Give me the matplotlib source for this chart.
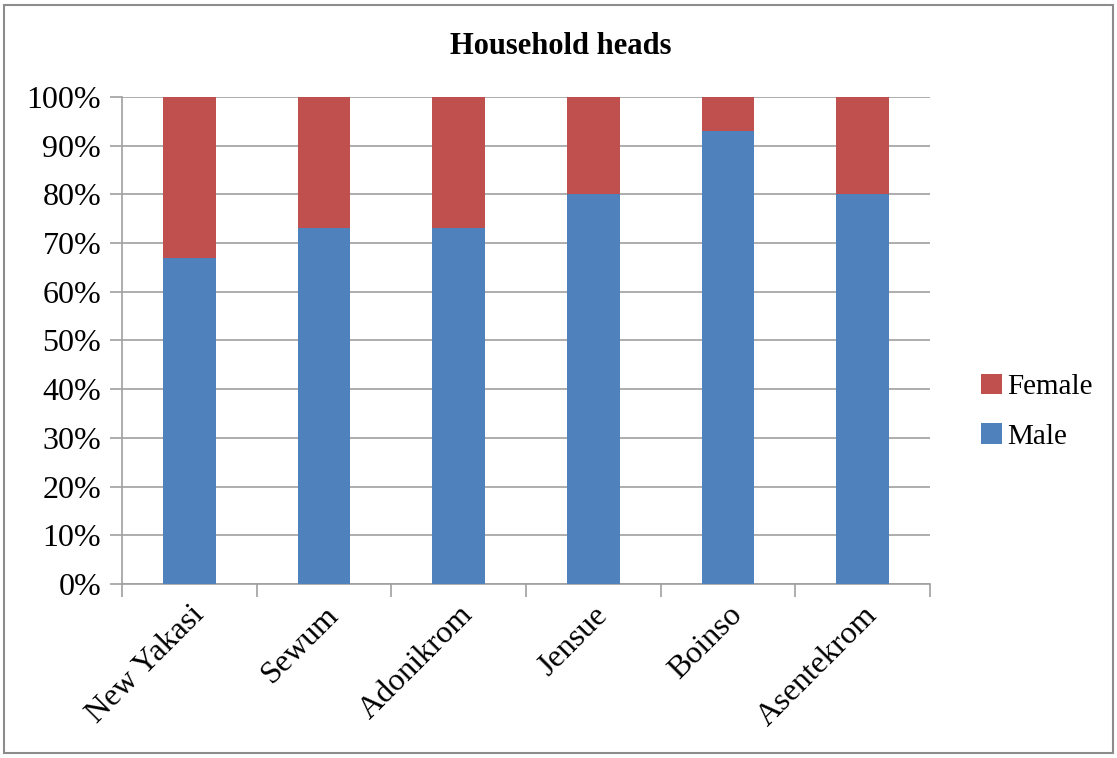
import numpy as np
import matplotlib.pyplot as plt
from matplotlib.patches import Rectangle
from matplotlib.ticker import FixedLocator, PercentFormatter

villages = ['New Yakasi', 'Sewum', 'Adonikrom', 'Jensue', 'Boinso', 'Asentekrom']
male = [67, 73, 73, 80, 93, 80]
female = [100 - m for m in male]

blue = '#4F81BD'
red = '#C0504D'
grid_grey = '#A0A0A0'

plt.rcParams['font.family'] = ['Liberation Serif', 'DejaVu Serif']

fig = plt.figure(figsize=(11.17, 7.58), dpi=100)
fig.patches.append(Rectangle((0.004, 0.006), 0.992, 0.988, transform=fig.transFigure,
                             fill=False, edgecolor='#8C8C8C', linewidth=1.5))

ax = fig.add_axes([0.1092, 0.2296, 0.7234, 0.6425])
x = np.arange(len(villages))
ax.bar(x, male, width=0.39, color=blue, label='Male', zorder=3)
ax.bar(x, female, width=0.39, bottom=male, color=red, label='Female', zorder=3)

ax.set_xlim(-0.5, len(villages) - 0.5)
ax.set_ylim(0, 100)
ax.set_yticks(np.arange(0, 101, 10))
ax.yaxis.set_major_formatter(PercentFormatter(decimals=0))
ax.grid(axis='y', color=grid_grey, linewidth=1.2, zorder=0)

# category labels sit at bar centres, tick marks at the boundaries
ax.set_xticks(x)
ax.set_xticklabels(villages, rotation=45, ha='right', rotation_mode='anchor', fontsize=23)
ax.tick_params(axis='x', which='major', length=0, pad=12)
ax.xaxis.set_minor_locator(FixedLocator(np.arange(-0.5, len(villages), 1.0)))
ax.tick_params(axis='x', which='minor', length=9, color=grid_grey, width=1.2)
ax.tick_params(axis='y', length=9, color=grid_grey, width=1.2, labelsize=23, pad=6)

for side in ['top', 'right']:
    ax.spines[side].set_visible(False)
for side in ['left', 'bottom']:
    ax.spines[side].set_color(grid_grey)
    ax.spines[side].set_linewidth(1.2)

fig.text(0.502, 0.938, 'Household heads', ha='center', va='center',
         fontsize=22, fontweight='bold')

handles, labels = ax.get_legend_handles_labels()
fig.legend(handles[::-1], labels[::-1], loc='center left', bbox_to_anchor=(0.855, 0.457),
           frameon=False, fontsize=21, handlelength=0.7, handleheight=0.7,
           handletextpad=0.2, labelspacing=0.8)

fig.savefig('out.png', dpi=100)
